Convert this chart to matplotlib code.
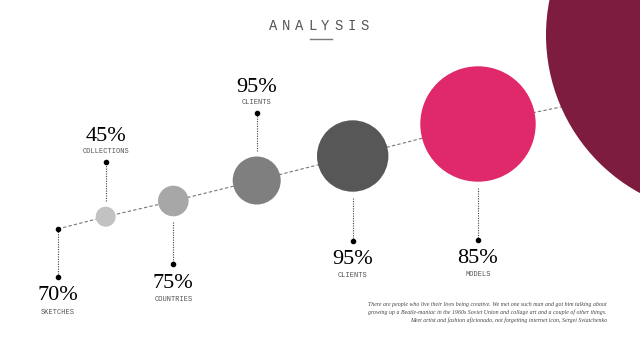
import matplotlib
matplotlib.use('Agg')
import matplotlib.pyplot as plt
from matplotlib.patches import Circle

# ------------------ Data ------------------
pct_labels = ["70%", "45%", "75%", "95%", "95%", "85%"]
names = ["SKETCHES", "COLLECTIONS", "COUNTRIES", "CLIENTS", "CLIENTS", "MODELS"]
bubble_x = [57.7, 105.7, 173.3, 256.7, 352.7, 478.0]
bubble_y = [229.0, 216.7, 201.0, 180.5, 156.0, 124.0]
bubble_r = [0, 10.0, 15.3, 24.0, 35.7, 57.7]
bubble_colors = ["#000000", "#c2c2c2", "#a7a7a7", "#7f7f7f", "#575757", "#e0296b"]
label_side = ["down", "up", "down", "up", "down", "down"]
leader_len = [48, 39, 42, 38, 43, 52]

title = "ANALYSIS"
blurb = ("There are people who live their lives being creative. We met one such man and got him talking about\n"
         "growing up a Beatle-maniac in the 1960s Soviet Union and collage art and a couple of other things.\n"
         "Meet artist and fashion aficionado, not forgetting internet icon, Sergei Sviatchenko")

# end of the dashed line (disappears under the big circle)
line_end = (561.0, 107.0)

# ------------------ Figure ------------------
fig = plt.figure(figsize=(6.4, 3.6), dpi=100)
ax = fig.add_axes([0, 0, 1, 1])
ax.set_xlim(0, 640)
ax.set_ylim(360, 0)
ax.axis('off')

# big maroon circle in the corner
ax.add_patch(Circle((726, 35), 180, color="#7e1c40", zorder=2, lw=0))

# dashed line through the bubbles
ax.plot(bubble_x + [line_end[0]], bubble_y + [line_end[1]], ls=(0, (3, 2)),
        color="#777777", lw=0.8, zorder=1)

for i in range(len(pct_labels)):
    bx, by, r = bubble_x[i], bubble_y[i], bubble_r[i]
    if r > 0:
        ax.add_patch(Circle((bx, by), r, color=bubble_colors[i], zorder=3, lw=0))
        gap = 6
    else:
        ax.plot(bx, by, 'o', color="black", ms=3, zorder=4)
        gap = 0
    sign = 1 if label_side[i] == "down" else -1
    start = by + sign * (r + gap)
    end = start + sign * leader_len[i]
    ax.plot([bx, bx], [start, end], ls=(0, (1, 1.2)), color="#444444", lw=0.8, zorder=1)
    ax.plot(bx, end, 'o', color="black", ms=3, zorder=4)
    if sign > 0:
        pct_y, name_y = end + 19, end + 35
    else:
        pct_y, name_y = end - 25, end - 10
    ax.text(bx, pct_y, pct_labels[i], ha='center', va='center', fontsize=16,
            family='Liberation Serif', color="#000000")
    ax.text(bx, name_y, names[i], ha='center', va='center', fontsize=5,
            family='Liberation Mono', color="#555555")

# ------------------ Title ------------------
for k, ch in enumerate(title):
    ax.text(273 + k * 13.1, 26, ch, ha='center', va='center', fontsize=10,
            family='Liberation Mono', color="#555555")
ax.plot([309.5, 331.5], [39, 39], color="#777777", lw=1)

# ------------------ Blurb ------------------
ax.text(607, 312.5, blurb, ha='right', va='center', fontsize=4.2,
        family='Liberation Serif', style='italic', color="#444444", linespacing=1.6)

fig.savefig("out.png", dpi=100)
